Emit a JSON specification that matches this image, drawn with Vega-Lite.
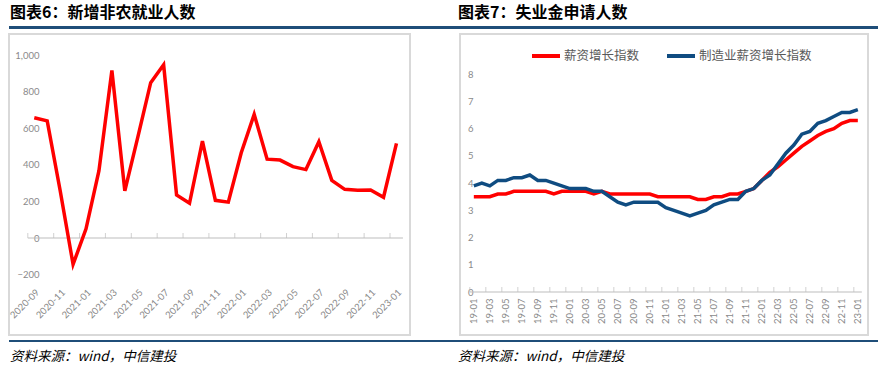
{
  "$schema": "https://vega.github.io/schema/vega-lite/v6.json",
  "padding": {"left": 6, "top": 5, "right": 0, "bottom": 0},
  "background": "white",
  "config": {
    "view": {"stroke": null},
    "font": "Noto Sans CJK SC",
    "axis": {"grid": false, "domain": false, "ticks": false, "title": null, "labelFont": "Lato", "labelFontSize": 9.5, "labelColor": "#8a8a8a", "labelOverlap": false}
  },
  "datasets": {
    "nfp": [
      {"m": "2020-09", "v": 657}, {"m": "2020-10", "v": 640}, {"m": "2020-11", "v": 260}, {"m": "2020-12", "v": -144},
      {"m": "2021-01", "v": 50}, {"m": "2021-02", "v": 368}, {"m": "2021-03", "v": 916}, {"m": "2021-04", "v": 258},
      {"m": "2021-05", "v": 550}, {"m": "2021-06", "v": 849}, {"m": "2021-07", "v": 947}, {"m": "2021-08", "v": 235},
      {"m": "2021-09", "v": 190}, {"m": "2021-10", "v": 530}, {"m": "2021-11", "v": 206}, {"m": "2021-12", "v": 196},
      {"m": "2022-01", "v": 466}, {"m": "2022-02", "v": 676}, {"m": "2022-03", "v": 431}, {"m": "2022-04", "v": 426},
      {"m": "2022-05", "v": 390}, {"m": "2022-06", "v": 374}, {"m": "2022-07", "v": 526}, {"m": "2022-08", "v": 315},
      {"m": "2022-09", "v": 266}, {"m": "2022-10", "v": 261}, {"m": "2022-11", "v": 263}, {"m": "2022-12", "v": 223},
      {"m": "2023-01", "v": 517}
    ],
    "nfpTicks": [
      {"m": "2020-09"}, {"m": "2020-11"}, {"m": "2021-01"}, {"m": "2021-03"}, {"m": "2021-05"}, {"m": "2021-07"}, {"m": "2021-09"}, {"m": "2021-11"},
      {"m": "2022-01"}, {"m": "2022-03"}, {"m": "2022-05"}, {"m": "2022-07"}, {"m": "2022-09"}, {"m": "2022-11"}, {"m": "2023-01"}
    ],
    "nfpRule": [{"m": "2020-09", "m2": "2023-01"}],
    "wage": [
      {"m": "19-01", "s": "薪资增长指数", "v": 3.5}, {"m": "19-02", "s": "薪资增长指数", "v": 3.5}, {"m": "19-03", "s": "薪资增长指数", "v": 3.5},
      {"m": "19-04", "s": "薪资增长指数", "v": 3.6}, {"m": "19-05", "s": "薪资增长指数", "v": 3.6}, {"m": "19-06", "s": "薪资增长指数", "v": 3.7},
      {"m": "19-07", "s": "薪资增长指数", "v": 3.7}, {"m": "19-08", "s": "薪资增长指数", "v": 3.7}, {"m": "19-09", "s": "薪资增长指数", "v": 3.7},
      {"m": "19-10", "s": "薪资增长指数", "v": 3.7}, {"m": "19-11", "s": "薪资增长指数", "v": 3.6}, {"m": "19-12", "s": "薪资增长指数", "v": 3.7},
      {"m": "20-01", "s": "薪资增长指数", "v": 3.7}, {"m": "20-02", "s": "薪资增长指数", "v": 3.7}, {"m": "20-03", "s": "薪资增长指数", "v": 3.7},
      {"m": "20-04", "s": "薪资增长指数", "v": 3.6}, {"m": "20-05", "s": "薪资增长指数", "v": 3.7}, {"m": "20-06", "s": "薪资增长指数", "v": 3.6},
      {"m": "20-07", "s": "薪资增长指数", "v": 3.6}, {"m": "20-08", "s": "薪资增长指数", "v": 3.6}, {"m": "20-09", "s": "薪资增长指数", "v": 3.6},
      {"m": "20-10", "s": "薪资增长指数", "v": 3.6}, {"m": "20-11", "s": "薪资增长指数", "v": 3.6}, {"m": "20-12", "s": "薪资增长指数", "v": 3.5},
      {"m": "21-01", "s": "薪资增长指数", "v": 3.5}, {"m": "21-02", "s": "薪资增长指数", "v": 3.5}, {"m": "21-03", "s": "薪资增长指数", "v": 3.5},
      {"m": "21-04", "s": "薪资增长指数", "v": 3.5}, {"m": "21-05", "s": "薪资增长指数", "v": 3.4}, {"m": "21-06", "s": "薪资增长指数", "v": 3.4},
      {"m": "21-07", "s": "薪资增长指数", "v": 3.5}, {"m": "21-08", "s": "薪资增长指数", "v": 3.5}, {"m": "21-09", "s": "薪资增长指数", "v": 3.6},
      {"m": "21-10", "s": "薪资增长指数", "v": 3.6}, {"m": "21-11", "s": "薪资增长指数", "v": 3.7}, {"m": "21-12", "s": "薪资增长指数", "v": 3.8},
      {"m": "22-01", "s": "薪资增长指数", "v": 4.1}, {"m": "22-02", "s": "薪资增长指数", "v": 4.4}, {"m": "22-03", "s": "薪资增长指数", "v": 4.6},
      {"m": "22-04", "s": "薪资增长指数", "v": 4.85}, {"m": "22-05", "s": "薪资增长指数", "v": 5.1}, {"m": "22-06", "s": "薪资增长指数", "v": 5.35},
      {"m": "22-07", "s": "薪资增长指数", "v": 5.55}, {"m": "22-08", "s": "薪资增长指数", "v": 5.75}, {"m": "22-09", "s": "薪资增长指数", "v": 5.9},
      {"m": "22-10", "s": "薪资增长指数", "v": 6.0}, {"m": "22-11", "s": "薪资增长指数", "v": 6.2}, {"m": "22-12", "s": "薪资增长指数", "v": 6.3},
      {"m": "23-01", "s": "薪资增长指数", "v": 6.3},
      {"m": "19-01", "s": "制造业薪资增长指数", "v": 3.9}, {"m": "19-02", "s": "制造业薪资增长指数", "v": 4.0}, {"m": "19-03", "s": "制造业薪资增长指数", "v": 3.9},
      {"m": "19-04", "s": "制造业薪资增长指数", "v": 4.1}, {"m": "19-05", "s": "制造业薪资增长指数", "v": 4.1}, {"m": "19-06", "s": "制造业薪资增长指数", "v": 4.2},
      {"m": "19-07", "s": "制造业薪资增长指数", "v": 4.2}, {"m": "19-08", "s": "制造业薪资增长指数", "v": 4.3}, {"m": "19-09", "s": "制造业薪资增长指数", "v": 4.1},
      {"m": "19-10", "s": "制造业薪资增长指数", "v": 4.1}, {"m": "19-11", "s": "制造业薪资增长指数", "v": 4.0}, {"m": "19-12", "s": "制造业薪资增长指数", "v": 3.9},
      {"m": "20-01", "s": "制造业薪资增长指数", "v": 3.8}, {"m": "20-02", "s": "制造业薪资增长指数", "v": 3.8}, {"m": "20-03", "s": "制造业薪资增长指数", "v": 3.8},
      {"m": "20-04", "s": "制造业薪资增长指数", "v": 3.7}, {"m": "20-05", "s": "制造业薪资增长指数", "v": 3.7}, {"m": "20-06", "s": "制造业薪资增长指数", "v": 3.5},
      {"m": "20-07", "s": "制造业薪资增长指数", "v": 3.3}, {"m": "20-08", "s": "制造业薪资增长指数", "v": 3.2}, {"m": "20-09", "s": "制造业薪资增长指数", "v": 3.3},
      {"m": "20-10", "s": "制造业薪资增长指数", "v": 3.3}, {"m": "20-11", "s": "制造业薪资增长指数", "v": 3.3}, {"m": "20-12", "s": "制造业薪资增长指数", "v": 3.3},
      {"m": "21-01", "s": "制造业薪资增长指数", "v": 3.1}, {"m": "21-02", "s": "制造业薪资增长指数", "v": 3.0}, {"m": "21-03", "s": "制造业薪资增长指数", "v": 2.9},
      {"m": "21-04", "s": "制造业薪资增长指数", "v": 2.8}, {"m": "21-05", "s": "制造业薪资增长指数", "v": 2.9}, {"m": "21-06", "s": "制造业薪资增长指数", "v": 3.0},
      {"m": "21-07", "s": "制造业薪资增长指数", "v": 3.2}, {"m": "21-08", "s": "制造业薪资增长指数", "v": 3.3}, {"m": "21-09", "s": "制造业薪资增长指数", "v": 3.4},
      {"m": "21-10", "s": "制造业薪资增长指数", "v": 3.4}, {"m": "21-11", "s": "制造业薪资增长指数", "v": 3.7}, {"m": "21-12", "s": "制造业薪资增长指数", "v": 3.8},
      {"m": "22-01", "s": "制造业薪资增长指数", "v": 4.1}, {"m": "22-02", "s": "制造业薪资增长指数", "v": 4.3}, {"m": "22-03", "s": "制造业薪资增长指数", "v": 4.7},
      {"m": "22-04", "s": "制造业薪资增长指数", "v": 5.1}, {"m": "22-05", "s": "制造业薪资增长指数", "v": 5.4}, {"m": "22-06", "s": "制造业薪资增长指数", "v": 5.8},
      {"m": "22-07", "s": "制造业薪资增长指数", "v": 5.9}, {"m": "22-08", "s": "制造业薪资增长指数", "v": 6.2}, {"m": "22-09", "s": "制造业薪资增长指数", "v": 6.3},
      {"m": "22-10", "s": "制造业薪资增长指数", "v": 6.45}, {"m": "22-11", "s": "制造业薪资增长指数", "v": 6.6}, {"m": "22-12", "s": "制造业薪资增长指数", "v": 6.6},
      {"m": "23-01", "s": "制造业薪资增长指数", "v": 6.7}
    ],
    "wageTicks": [
      {"m": "19-01"}, {"m": "19-03"}, {"m": "19-05"}, {"m": "19-07"}, {"m": "19-09"}, {"m": "19-11"},
      {"m": "20-01"}, {"m": "20-03"}, {"m": "20-05"}, {"m": "20-07"}, {"m": "20-09"}, {"m": "20-11"},
      {"m": "21-01"}, {"m": "21-03"}, {"m": "21-05"}, {"m": "21-07"}, {"m": "21-09"}, {"m": "21-11"},
      {"m": "22-01"}, {"m": "22-03"}, {"m": "22-05"}, {"m": "22-07"}, {"m": "22-09"}, {"m": "22-11"}, {"m": "23-01"}
    ],
    "wageRule": [{"m": "19-01", "m2": "23-01"}]
  },
  "spacing": 4,
  "vconcat": [
    {
      "spacing": 0,
      "hconcat": [
        {
          "width": 440, "height": 3,
          "data": {"values": []},
          "mark": "point",
          "view": {"fill": "#1f4e79", "stroke": null},
          "title": {"text": "图表6：新增非农就业人数", "anchor": "start", "fontSize": 16, "fontWeight": "bold", "font": "Noto Sans CJK SC", "color": "#000000", "offset": 5, "dx": 1}
        },
        {
          "width": 429, "height": 3,
          "data": {"values": []},
          "mark": "point",
          "view": {"fill": "#1f4e79", "stroke": null},
          "title": {"text": "图表7：失业金申请人数", "anchor": "start", "fontSize": 16, "fontWeight": "bold", "font": "Noto Sans CJK SC", "color": "#000000", "offset": 5, "dx": 9}
        }
      ]
    },
    {
      "spacing": 48,
      "resolve": {"legend": {"color": "independent"}},
      "hconcat": [
        {
          "width": 401, "height": 301,
          "view": {"stroke": "#d9d9d9", "strokeWidth": 2},
          "layer": [
            {
              "data": {"name": "nfpRule"},
              "mark": {"type": "rule", "color": "#bdbdbd", "strokeWidth": 1.2},
              "encoding": {
                "x": {"field": "m", "type": "ordinal", "bandPosition": 0,
                  "scale": {"type": "band", "domain": ["2020-09","2020-10","2020-11","2020-12","2021-01","2021-02","2021-03","2021-04","2021-05","2021-06","2021-07","2021-08","2021-09","2021-10","2021-11","2021-12","2022-01","2022-02","2022-03","2022-04","2022-05","2022-06","2022-07","2022-08","2022-09","2022-10","2022-11","2022-12","2023-01"], "paddingInner": 0, "paddingOuter": 2.305, "align": 0.727},
                  "axis": {"values": ["2020-09","2020-11","2021-01","2021-03","2021-05","2021-07","2021-09","2021-11","2022-01","2022-03","2022-05","2022-07","2022-09","2022-11","2023-01"], "labelAngle": -45, "labelAlign": "right", "labelBaseline": "top", "offset": -50, "labelPadding": 2, "labelOverlap": false}},
                "x2": {"field": "m2", "bandPosition": 1},
                "y": {"datum": 0, "type": "quantitative",
                  "scale": {"domain": [-530, 1115], "nice": false, "zero": false},
                  "axis": {"values": [-200, 0, 200, 400, 600, 800, 1000], "format": ",.0f", "offset": -32, "labelPadding": 2, "labelOverlap": false}}
              }
            },
            {
              "data": {"name": "nfpTicks"},
              "mark": {"type": "tick", "orient": "vertical", "size": 5, "thickness": 1, "color": "#bdbdbd", "yOffset": -2.5},
              "encoding": {
                "x": {"field": "m", "type": "ordinal", "bandPosition": 0,
                  "axis": {"values": ["2020-09","2020-11","2021-01","2021-03","2021-05","2021-07","2021-09","2021-11","2022-01","2022-03","2022-05","2022-07","2022-09","2022-11","2023-01"], "labelAngle": -45, "labelAlign": "right", "labelBaseline": "top", "offset": -50, "labelPadding": 2, "labelOverlap": false}},
                "y": {"datum": 0, "type": "quantitative",
                  "axis": {"values": [-200, 0, 200, 400, 600, 800, 1000], "format": ",.0f", "offset": -32, "labelPadding": 2, "labelOverlap": false}}
              }
            },
            {
              "data": {"name": "nfp"},
              "mark": {"type": "line", "color": "#ff0000", "strokeWidth": 3.5, "strokeJoin": "miter"},
              "encoding": {
                "x": {"field": "m", "type": "ordinal", "bandPosition": 0.5,
                  "axis": {"values": ["2020-09","2020-11","2021-01","2021-03","2021-05","2021-07","2021-09","2021-11","2022-01","2022-03","2022-05","2022-07","2022-09","2022-11","2023-01"], "labelAngle": -45, "labelAlign": "right", "labelBaseline": "top", "offset": -50, "labelPadding": 2, "labelOverlap": false}},
                "y": {"field": "v", "type": "quantitative",
                  "axis": {"values": [-200, 0, 200, 400, 600, 800, 1000], "format": ",.0f", "offset": -32, "labelPadding": 2, "labelOverlap": false}}
              }
            }
          ]
        },
        {
          "width": 408, "height": 301,
          "view": {"stroke": "#d9d9d9", "strokeWidth": 2},
          "layer": [
            {
              "data": {"name": "wageRule"},
              "mark": {"type": "rule", "color": "#bdbdbd", "strokeWidth": 1.2},
              "encoding": {
                "x": {"field": "m", "type": "ordinal", "bandPosition": 0,
                  "scale": {"type": "band", "domain": ["19-01","19-02","19-03","19-04","19-05","19-06","19-07","19-08","19-09","19-10","19-11","19-12","20-01","20-02","20-03","20-04","20-05","20-06","20-07","20-08","20-09","20-10","20-11","20-12","21-01","21-02","21-03","21-04","21-05","21-06","21-07","21-08","21-09","21-10","21-11","21-12","22-01","22-02","22-03","22-04","22-05","22-06","22-07","22-08","22-09","22-10","22-11","22-12","23-01"], "paddingInner": 0, "paddingOuter": 2.59, "align": 0.614},
                  "axis": {"values": ["19-01","19-03","19-05","19-07","19-09","19-11","20-01","20-03","20-05","20-07","20-09","20-11","21-01","21-03","21-05","21-07","21-09","21-11","22-01","22-03","22-05","22-07","22-09","22-11","23-01"], "labelAngle": -90, "labelAlign": "right", "labelBaseline": "middle", "offset": -39, "labelPadding": 2, "labelOverlap": false}},
                "x2": {"field": "m2", "bandPosition": 1},
                "y": {"datum": 0, "type": "quantitative",
                  "scale": {"domain": [-1.58, 9.48], "nice": false, "zero": false},
                  "axis": {"values": [0, 1, 2, 3, 4, 5, 6, 7, 8], "format": "d", "offset": -15, "labelPadding": 2, "labelOverlap": false}}
              }
            },
            {
              "data": {"name": "wageTicks"},
              "mark": {"type": "tick", "orient": "vertical", "size": 5, "thickness": 1, "color": "#bdbdbd", "yOffset": -2.5},
              "encoding": {
                "x": {"field": "m", "type": "ordinal", "bandPosition": 0,
                  "axis": {"values": ["19-01","19-03","19-05","19-07","19-09","19-11","20-01","20-03","20-05","20-07","20-09","20-11","21-01","21-03","21-05","21-07","21-09","21-11","22-01","22-03","22-05","22-07","22-09","22-11","23-01"], "labelAngle": -90, "labelAlign": "right", "labelBaseline": "middle", "offset": -39, "labelPadding": 2, "labelOverlap": false}},
                "y": {"datum": 0, "type": "quantitative",
                  "axis": {"values": [0, 1, 2, 3, 4, 5, 6, 7, 8], "format": "d", "offset": -15, "labelPadding": 2, "labelOverlap": false}}
              }
            },
            {
              "data": {"name": "wage"},
              "mark": {"type": "line", "strokeWidth": 3.5},
              "encoding": {
                "x": {"field": "m", "type": "ordinal", "bandPosition": 0.5,
                  "axis": {"values": ["19-01","19-03","19-05","19-07","19-09","19-11","20-01","20-03","20-05","20-07","20-09","20-11","21-01","21-03","21-05","21-07","21-09","21-11","22-01","22-03","22-05","22-07","22-09","22-11","23-01"], "labelAngle": -90, "labelAlign": "right", "labelBaseline": "middle", "offset": -39, "labelPadding": 2, "labelOverlap": false}},
                "y": {"field": "v", "type": "quantitative",
                  "axis": {"values": [0, 1, 2, 3, 4, 5, 6, 7, 8], "format": "d", "offset": -15, "labelPadding": 2, "labelOverlap": false}},
                "color": {"field": "s", "type": "nominal",
                  "scale": {"domain": ["薪资增长指数", "制造业薪资增长指数"], "range": ["#ff0000", "#0f4c81"]},
                  "legend": {"orient": "none", "legendX": 70, "legendY": 6, "direction": "horizontal", "title": null, "symbolType": "stroke", "symbolSize": 784, "symbolStrokeWidth": 4, "labelFontSize": 12.5, "labelColor": "#595959", "labelFont": "Noto Sans CJK SC", "columnPadding": 19, "labelOffset": 2, "padding": 0}}
              }
            }
          ]
        }
      ]
    },
    {
      "spacing": 0,
      "hconcat": [
        {
          "width": 440, "height": 2,
          "data": {"values": []},
          "mark": "point",
          "view": {"fill": "#1f4e79", "stroke": null},
          "title": {"text": "资料来源：wind，中信建投", "orient": "bottom", "anchor": "start", "fontSize": 13.5, "fontWeight": "normal", "fontStyle": "italic", "font": "Noto Sans CJK SC", "color": "#000000", "offset": 8, "dx": 1}
        },
        {
          "width": 429, "height": 2,
          "data": {"values": []},
          "mark": "point",
          "view": {"fill": "#1f4e79", "stroke": null},
          "title": {"text": "资料来源：wind，中信建投", "orient": "bottom", "anchor": "start", "fontSize": 13.5, "fontWeight": "normal", "fontStyle": "italic", "font": "Noto Sans CJK SC", "color": "#000000", "offset": 8, "dx": 9}
        }
      ]
    }
  ]
}
